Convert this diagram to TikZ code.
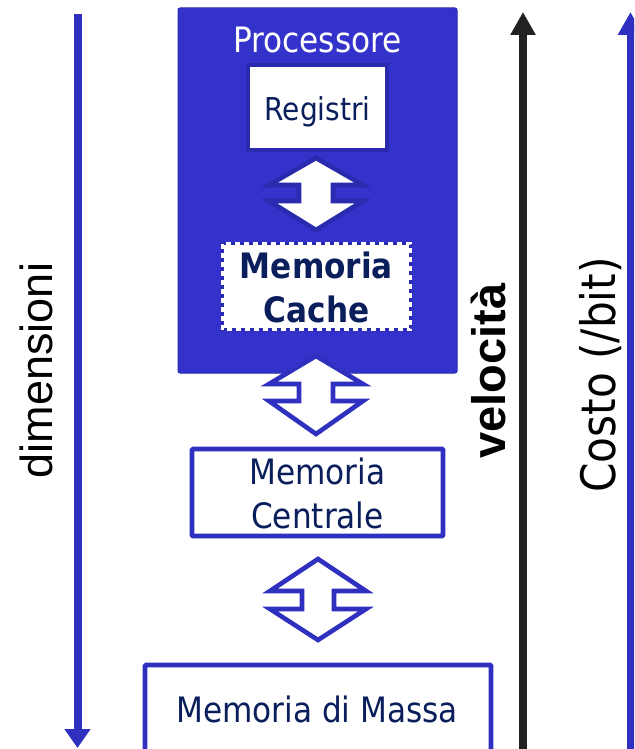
\documentclass[tikz,border=0pt]{standalone}
\usepackage{fontspec}
\usetikzlibrary{arrows.meta}

% Narrow humanist sans for the boxes, Arial-like sans for two of the axes
\newfontfamily\boxfont[FakeStretch=0.89]{DejaVu Sans}
\newfontfamily\sidefont{Liberation Sans}

\definecolor{cpublue}{HTML}{3333CC}
\definecolor{lineblue}{HTML}{3030C0}
\definecolor{edgeblue}{HTML}{2A2AAE}
\definecolor{navy}{HTML}{0A1E5C}
\definecolor{axisblack}{HTML}{222222}

\tikzset{
  shape box/.style={rectangle, inner sep=0pt, outer sep=0pt},
  cpubox/.style={shape box, fill=cpublue, draw=edgeblue, line width=1pt, rounded corners=2pt},
  whitebox/.style={shape box, fill=white, draw=edgeblue, line width=4pt},
  memorybox/.style={shape box, fill=white, draw=lineblue, line width=4.6pt, rounded corners=1pt},
  boxtext/.style={inner sep=0pt, text=navy, font=\boxfont\fontsize{35}{44}\selectfont, align=center},
  sidelabel/.style={inner sep=0pt, rotate=90, anchor=base},
  axis/.style={line width=8pt, line cap=butt},
  biarrow/.style={line width=4.6pt, fill=white, line join=miter},
}

\begin{document}
\begin{tikzpicture}[x=1pt, y=-1pt]
  \useasboundingbox (0,0) rectangle (634,749);
  \clip (0,0) rectangle (634,749);

  % processor block with its two inner levels
  \node[cpubox, minimum width=279pt, minimum height=365pt] (cpu) at (317.5,190.5) {};
  \node[inner sep=0pt, anchor=base, text=white, font=\boxfont\fontsize{35}{44}\selectfont]
       (cputitle) at (317.5,53) {Processore};

  \node[whitebox, minimum width=139pt, minimum height=85pt] (reg) at (317.5,107.5) {};
  \node[boxtext, anchor=base, font=\boxfont\fontsize{31.5}{40}\selectfont] (regtext) at (317.5,121) {Registri};

  \node[shape box, fill=white, draw=edgeblue, line width=3pt, minimum width=188pt, minimum height=86pt]
       (cache) at (316.5,286.5) {};
  \draw[white, line width=3pt, dash pattern=on 5pt off 4pt] (cache.north west) rectangle (cache.south east);
  \node[boxtext, font=\boxfont\bfseries\fontsize{35}{44}\selectfont] (cachetext) at (316.5,287) {Memoria\\Cache};

  % main memory and mass storage
  \node[memorybox, minimum width=251pt, minimum height=87pt] (main) at (317.5,492.5) {};
  \node[boxtext] (maintext) at (317.5,493.5) {Memoria\\Centrale};

  \node[memorybox, minimum width=346pt, minimum height=95pt] (mass) at (318,712.5) {};
  \node[boxtext, anchor=base] (masstext) at (317,722) {Memoria di Massa};

  % two-way transfer arrows between levels
  \foreach \cx/\yt/\ya/\yb/\yd/\hw/\sw/\col in {
      316/158/185/201/230/47/17/edgeblue,
      316/356/384/401/434/47/17/lineblue,
      318/559/591/609/640/48/16/lineblue}
    \draw[biarrow, draw=\col]
      (\cx,\yt) -- (\cx+\hw,\ya) -- (\cx+\sw,\ya) -- (\cx+\sw,\yb) -- (\cx+\hw,\yb)
      -- (\cx,\yd) -- (\cx-\hw,\yb) -- (\cx-\sw,\yb) -- (\cx-\sw,\ya) -- (\cx-\hw,\ya) -- cycle;

  % size axis (grows downwards)
  \coordinate (dimtop) at (77.5,14);
  \coordinate (dimend) at (77.5,748);
  \draw[axis, lineblue, -{Triangle[width=25pt,length=19pt]}] (dimtop) -- (dimend);
  \node[sidelabel, font=\sidefont\fontsize{45}{54}\selectfont] (dimlabel) at (52,370.5) {dimensioni};

  % speed axis (grows upwards)
  \coordinate (speedfoot) at (523,760);
  \coordinate (speedtip) at (523,12);
  \draw[axis, axisblack, -{Triangle[width=24pt,length=23pt]}] (speedfoot) -- (speedtip);
  \node[sidelabel, font=\sidefont\bfseries\fontsize{47}{56}\selectfont] (speedlabel) at (505,371) {velocità};

  % cost axis (grows upwards)
  \coordinate (costfoot) at (630.5,760);
  \coordinate (costtip) at (630.5,12);
  \draw[axis, lineblue, -{Triangle[width=24pt,length=23pt]}] (costfoot) -- (costtip);
  \node[sidelabel, font=\boxfont\fontsize{47.5}{56}\selectfont] (costlabel) at (615,375) {Costo (/bit)};
\end{tikzpicture}
\end{document}
